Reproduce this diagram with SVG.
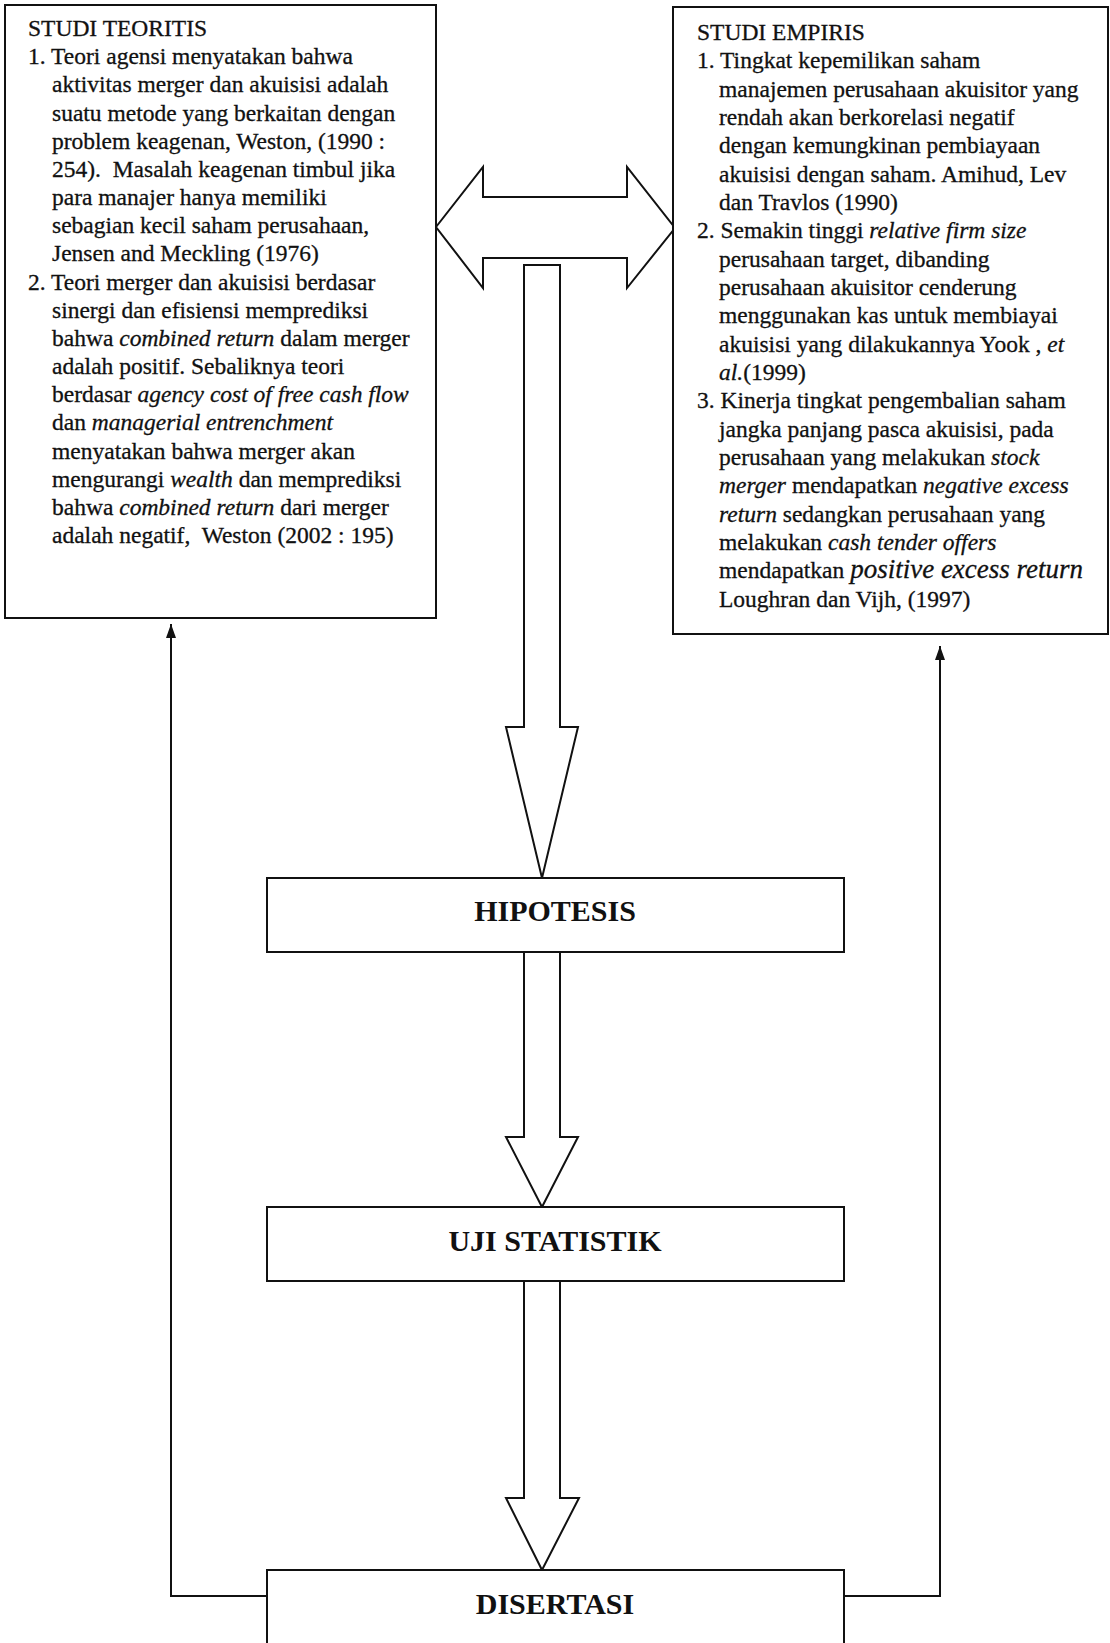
<svg xmlns="http://www.w3.org/2000/svg" width="1110" height="1643" viewBox="0 0 1110 1643">
  <style>
    .box{fill:#fff;stroke:#111;stroke-width:2}
    .fat{fill:#fff;stroke:#111;stroke-width:2;stroke-linejoin:miter}
    .line{fill:none;stroke:#111;stroke-width:2}
    .t{font-family:"Liberation Serif","Times New Roman",serif;font-size:23.5px;fill:#111;stroke:#111;stroke-width:0.3}
    .i{font-style:italic}
    .big{font-size:27px}
    .h{font-family:"Liberation Serif","Times New Roman",serif;font-size:30px;font-weight:bold;fill:#111;text-anchor:middle}
  </style>
  <defs>
    <marker id="tri" viewBox="0 0 14 10" refX="14" refY="5" markerWidth="14" markerHeight="10" markerUnits="userSpaceOnUse" orient="auto">
      <path d="M0,0 L14,5 L0,10 z" fill="#111"/>
    </marker>
  </defs>

  <rect width="1110" height="1643" fill="#fff"/>

  <!-- connectors -->
  <g id="connectors">
    <!-- two-way link between theory and empirical studies -->
    <polygon class="fat" points="436,227 483,167 483,197 627,197 627,167 675,228 627,288 627,258 483,258 483,288"/>
    <!-- studies to hypothesis -->
    <polygon class="fat" points="524,265 560,265 560,727 578,727 542,878 506,727 524,727"/>
    <!-- hypothesis to statistical test -->
    <polygon class="fat" points="524,952 560,952 560,1137 578,1137 542,1207 506,1137 524,1137"/>
    <!-- statistical test to dissertation -->
    <polygon class="fat" points="524,1281 560,1281 560,1498 579,1498 542,1570 506,1498 524,1498"/>
    <!-- feedback loops -->
    <path class="line" d="M267,1596 H171 V624" marker-end="url(#tri)"/>
    <path class="line" d="M844,1596 H940 V646" marker-end="url(#tri)"/>
  </g>

  <!-- theoretical studies -->
  <g id="studi-teoritis">
    <rect class="box" x="5" y="5" width="431" height="613"/>
    <text class="t">
      <tspan x="28" y="36">STUDI TEORITIS</tspan>
      <tspan x="28" y="64">1. Teori agensi menyatakan bahwa</tspan>
      <tspan x="52" y="92">aktivitas merger dan akuisisi adalah</tspan>
      <tspan x="52" y="121">suatu metode yang berkaitan dengan</tspan>
      <tspan x="52" y="149">problem keagenan, Weston, (1990 :</tspan>
      <tspan x="52" y="177">254).&#160; Masalah keagenan timbul jika</tspan>
      <tspan x="52" y="205">para manajer hanya memiliki</tspan>
      <tspan x="52" y="233">sebagian kecil saham perusahaan,</tspan>
      <tspan x="52" y="261">Jensen and Meckling (1976)</tspan>
      <tspan x="28" y="290">2. Teori merger dan akuisisi berdasar</tspan>
      <tspan x="52" y="318">sinergi dan efisiensi memprediksi</tspan>
      <tspan x="52" y="346">bahwa <tspan class="i">combined return</tspan> dalam merger</tspan>
      <tspan x="52" y="374">adalah positif. Sebaliknya teori</tspan>
      <tspan x="52" y="402">berdasar <tspan class="i">agency cost of free cash flow</tspan></tspan>
      <tspan x="52" y="430">dan <tspan class="i">managerial entrenchment</tspan></tspan>
      <tspan x="52" y="459">menyatakan bahwa merger akan</tspan>
      <tspan x="52" y="487">mengurangi <tspan class="i">wealth</tspan> dan memprediksi</tspan>
      <tspan x="52" y="515">bahwa <tspan class="i">combined return</tspan> dari merger</tspan>
      <tspan x="52" y="543">adalah negatif,&#160; Weston (2002 : 195)</tspan>
    </text>
  </g>

  <!-- empirical studies -->
  <g id="studi-empiris">
    <rect class="box" x="673" y="7" width="435" height="627"/>
    <text class="t">
      <tspan x="697" y="40">STUDI EMPIRIS</tspan>
      <tspan x="697" y="68">1. Tingkat kepemilikan saham</tspan>
      <tspan x="719" y="97">manajemen perusahaan akuisitor yang</tspan>
      <tspan x="719" y="125">rendah akan berkorelasi negatif</tspan>
      <tspan x="719" y="153">dengan kemungkinan pembiayaan</tspan>
      <tspan x="719" y="182">akuisisi dengan saham. Amihud, Lev</tspan>
      <tspan x="719" y="210">dan Travlos (1990)</tspan>
      <tspan x="697" y="238">2. Semakin tinggi <tspan class="i">relative firm size</tspan></tspan>
      <tspan x="719" y="267">perusahaan target, dibanding</tspan>
      <tspan x="719" y="295">perusahaan akuisitor cenderung</tspan>
      <tspan x="719" y="323">menggunakan kas untuk membiayai</tspan>
      <tspan x="719" y="352">akuisisi yang dilakukannya Yook , <tspan class="i">et</tspan></tspan>
      <tspan x="719" y="380"><tspan class="i">al.</tspan>(1999)</tspan>
      <tspan x="697" y="408">3. Kinerja tingkat pengembalian saham</tspan>
      <tspan x="719" y="437">jangka panjang pasca akuisisi, pada</tspan>
      <tspan x="719" y="465">perusahaan yang melakukan <tspan class="i">stock</tspan></tspan>
      <tspan x="719" y="493"><tspan class="i">merger</tspan> mendapatkan <tspan class="i">negative excess</tspan></tspan>
      <tspan x="719" y="522"><tspan class="i">return</tspan> sedangkan perusahaan yang</tspan>
      <tspan x="719" y="550">melakukan <tspan class="i">cash tender offers</tspan></tspan>
      <tspan x="719" y="578">mendapatkan <tspan class="i big">positive excess return</tspan></tspan>
      <tspan x="719" y="607">Loughran dan Vijh, (1997)</tspan>
    </text>
  </g>

  <!-- hypothesis -->
  <g id="hipotesis">
    <rect class="box" x="267" y="878" width="577" height="74"/>
    <text class="h" x="555" y="921">HIPOTESIS</text>
  </g>

  <!-- statistical test -->
  <g id="uji-statistik">
    <rect class="box" x="267" y="1207" width="577" height="74"/>
    <text class="h" x="555" y="1251">UJI STATISTIK</text>
  </g>

  <!-- dissertation -->
  <g id="disertasi">
    <rect class="box" x="267" y="1570" width="577" height="80"/>
    <text class="h" x="555" y="1614">DISERTASI</text>
  </g>
</svg>
